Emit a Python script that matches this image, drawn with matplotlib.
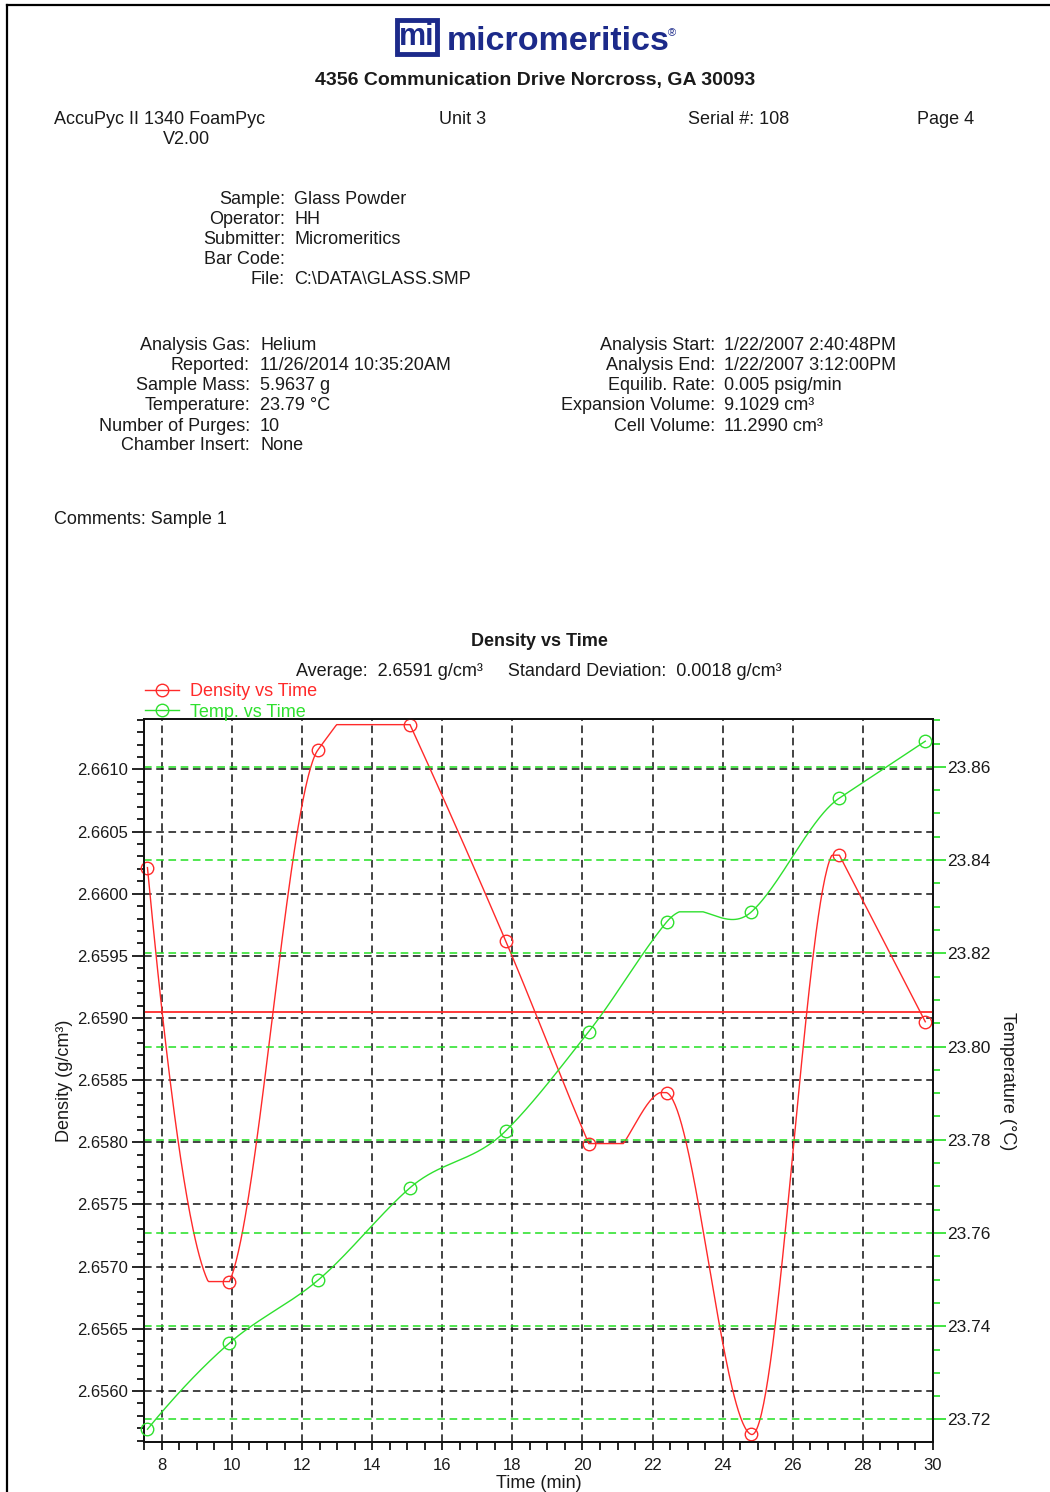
import numpy as np
import matplotlib
matplotlib.use('Agg')
import matplotlib.pyplot as plt
from matplotlib.lines import Line2D
from matplotlib.ticker import MultipleLocator, FormatStrFormatter

plt.rcParams['font.family'] = ['Liberation Sans', 'DejaVu Sans']

time_min = [7.59, 9.93, 12.46, 15.08, 17.81, 20.18, 22.40, 24.82, 27.33, 29.78]
density = [2.66021, 2.65688, 2.66116, 2.66136, 2.65962, 2.65799, 2.65840, 2.65565, 2.66031, 2.65897]
temperature = [23.7179, 23.7364, 23.7499, 23.7697, 23.7819, 23.8032, 23.8267, 23.8289, 23.8533, 23.8655]
density_avg = 2.65905

header_items = [('AccuPyc II 1340 FoamPyc', 160, 118), ('V2.00', 186, 137), ('Unit 3', 463, 118),
                ('Serial #: 108', 739, 118), ('Page 4', 946, 118)]
sample_labels = ['Sample:', 'Operator:', 'Submitter:', 'Bar Code:', 'File:']
sample_values = ['Glass Powder', 'HH', 'Micromeritics', '', 'C:\\DATA\\GLASS.SMP']
left_labels = ['Analysis Gas:', 'Reported:', 'Sample Mass:', 'Temperature:', 'Number of Purges:', 'Chamber Insert:']
left_values = ['Helium', '11/26/2014 10:35:20AM', '5.9637 g', '23.79 \u00b0C', '10', 'None']
right_labels = ['Analysis Start:', 'Analysis End:', 'Equilib. Rate:', 'Expansion Volume:', 'Cell Volume:']
right_values = ['1/22/2007 2:40:48PM', '1/22/2007 3:12:00PM', '0.005 psig/min', '9.1029 cm\u00b3', '11.2990 cm\u00b3']

RED = '#ff2a2a'
GREEN = '#2ee02e'
GRID_GREEN = '#22e022'
NAVY = '#1c2a8a'
TXT = '#1a1a1a'
FS = 13
W, H = 1050, 1492


def smooth(x, y, n=80):
	# Akima-style curve, clamped inside each segment (as the report draws it)
	x = np.asarray(x, float); y = np.asarray(y, float)
	h = np.diff(x)
	s = np.diff(y) / h
	m0 = 2 * s[0] - s[1]
	s_ext = np.concatenate([[2 * m0 - s[0], m0], s, [s[-1], s[-1]]])
	k = len(x)
	t = np.zeros(k)
	for i in range(k):
		LL, L, R, RR = s_ext[i], s_ext[i + 1], s_ext[i + 2], s_ext[i + 3]
		w1 = abs(RR - R); w2 = abs(L - LL)
		t[i] = (L + R) / 2 if w1 + w2 == 0 else (w1 * L + w2 * R) / (w1 + w2)
	xs, ys = [], []
	u = np.linspace(0, 1, n)
	for i in range(k - 1):
		hh = h[i]
		v = (2 * u ** 3 - 3 * u ** 2 + 1) * y[i] + (u ** 3 - 2 * u ** 2 + u) * hh * t[i] \
			+ (-2 * u ** 3 + 3 * u ** 2) * y[i + 1] + (u ** 3 - u ** 2) * hh * t[i + 1]
		v = np.clip(v, min(y[i], y[i + 1]), max(y[i], y[i + 1]))
		xs.append(x[i] + u * hh); ys.append(v)
	return np.concatenate(xs), np.concatenate(ys)


def ftext(px, py, s, **kw):
	kw.setdefault('fontsize', FS)
	kw.setdefault('color', TXT)
	kw.setdefault('va', 'center')
	fig.text(px / W, 1 - (py + 2) / H, s, **kw)


fig = plt.figure(figsize=(10.5, 14.92), dpi=100)

# page border
fig.add_artist(Line2D([7 / W, 1], [1 - 5 / H, 1 - 5 / H], color='black', lw=1.6))
fig.add_artist(Line2D([7 / W, 7 / W], [0, 1 - 5 / H], color='black', lw=1.6))

# logo
ftext(417, 35, 'mi', fontsize=22, fontweight='bold', color=NAVY, ha='center',
	bbox=dict(boxstyle='square,pad=0.06', fc='white', ec=NAVY, lw=3.5))
ftext(447, 40, 'micromeritics', fontsize=24.5, fontweight='bold', color=NAVY, ha='left')
ftext(668, 31, '\u00ae', fontsize=8, color=NAVY, ha='left')
ftext(535, 78, '4356 Communication Drive Norcross, GA 30093', fontsize=14, fontweight='bold', ha='center')

for s, px, py in header_items:
	ftext(px, py, s, ha='center')

for i, (lab, val) in enumerate(zip(sample_labels, sample_values)):
	py = 198 + i * 20
	ftext(285, py, lab, ha='right')
	ftext(294, py, val, ha='left')

for i, (lab, val) in enumerate(zip(left_labels, left_values)):
	py = 344 + i * 20
	ftext(250, py, lab, ha='right')
	ftext(260, py, val, ha='left')

for i, (lab, val) in enumerate(zip(right_labels, right_values)):
	py = 344 + i * 20
	ftext(715, py, lab, ha='right')
	ftext(724, py, val, ha='left')

ftext(54, 518, 'Comments: Sample 1', ha='left')

ftext(539, 640, 'Density vs Time', fontsize=13, fontweight='bold', ha='center')
ftext(539, 669, 'Average:  2.6591 g/cm\u00b3     Standard Deviation:  0.0018 g/cm\u00b3', ha='center')

# chart
ax = fig.add_axes([144.3 / W, 1 - 1442.3 / H, (933 - 144.3) / W, (1442.3 - 719.3) / H])
ax2 = ax.twinx()

ax.set_xlim(7.5, 30)
ax.set_ylim(2.655587, 2.661403)
ax2.set_ylim(23.7151, 23.8702)

ax.xaxis.set_major_locator(MultipleLocator(2))
ax.xaxis.set_minor_locator(MultipleLocator(0.5))
ax.yaxis.set_major_locator(MultipleLocator(0.0005))
ax.yaxis.set_minor_locator(MultipleLocator(0.0001))
ax.yaxis.set_major_formatter(FormatStrFormatter('%.4f'))
ax2.yaxis.set_major_locator(MultipleLocator(0.02))
ax2.yaxis.set_minor_locator(MultipleLocator(0.005))
ax2.yaxis.set_major_formatter(FormatStrFormatter('%.2f'))

dash = (0, (5, 3))
ax.grid(True, which='major', color='#111111', lw=1.1, linestyle=dash)
ax2.grid(True, which='major', axis='y', color=GRID_GREEN, lw=1.1, linestyle=dash)
ax.set_axisbelow(True)

ax.tick_params(which='major', direction='out', length=9, width=1.2, labelsize=12, labelcolor=TXT, pad=2.5)
ax.tick_params(which='minor', direction='out', length=5, width=1.2)
ax.tick_params(axis='x', which='both', length=6, pad=5.5)
ax2.tick_params(which='major', direction='out', length=9, width=1.2, color=GRID_GREEN, labelsize=12.5, labelcolor=TXT, pad=1)
ax2.tick_params(which='minor', direction='out', length=5, width=1.2, color=GRID_GREEN)
for sp in list(ax.spines.values()) + list(ax2.spines.values()):
	sp.set_linewidth(1.3)
	sp.set_color('#111111')

ax.axhline(density_avg, color=RED, lw=1.3, zorder=3)

dx, dy = smooth(time_min, density)
ax.plot(dx, dy, color=RED, lw=1.0, zorder=4)
ax.plot(time_min, density, 'o', ms=9, mfc='none', mec=RED, mew=1.0, zorder=5, clip_on=False)
tx, ty = smooth(time_min, temperature)
ax2.plot(tx, ty, color=GREEN, lw=1.0, zorder=4)
ax2.plot(time_min, temperature, 'o', ms=9, mfc='none', mec=GREEN, mew=1.0, zorder=5, clip_on=False)

ax.set_ylabel('Density (g/cm\u00b3)', fontsize=FS, color=TXT)
ax.yaxis.set_label_coords(-0.091, 0.5)
ax2.set_ylabel('Temperature (\u00b0C)', fontsize=FS, color=TXT, rotation=-90, va='center')
ax2.yaxis.set_label_coords(1.095, 0.5)
ax.set_xlabel('Time (min)', fontsize=FS, color=TXT)
ax.xaxis.set_label_coords(0.5, -0.045)

# legend
handles = [Line2D([], [], color=RED, lw=1.0, marker='o', ms=9, mfc='none', mec=RED),
		   Line2D([], [], color=GREEN, lw=1.0, marker='o', ms=9, mfc='none', mec=GREEN)]
fig.legend(handles, ['Density vs Time', 'Temp. vs Time'], loc='upper left',
		   bbox_to_anchor=(145 / W, 1 - 683 / H), frameon=False, fontsize=FS,
		   labelcolor='linecolor', handlelength=1.9, handletextpad=0.6, labelspacing=0.2,
		   borderpad=0, borderaxespad=0)

fig.savefig('out.png', dpi=100)
